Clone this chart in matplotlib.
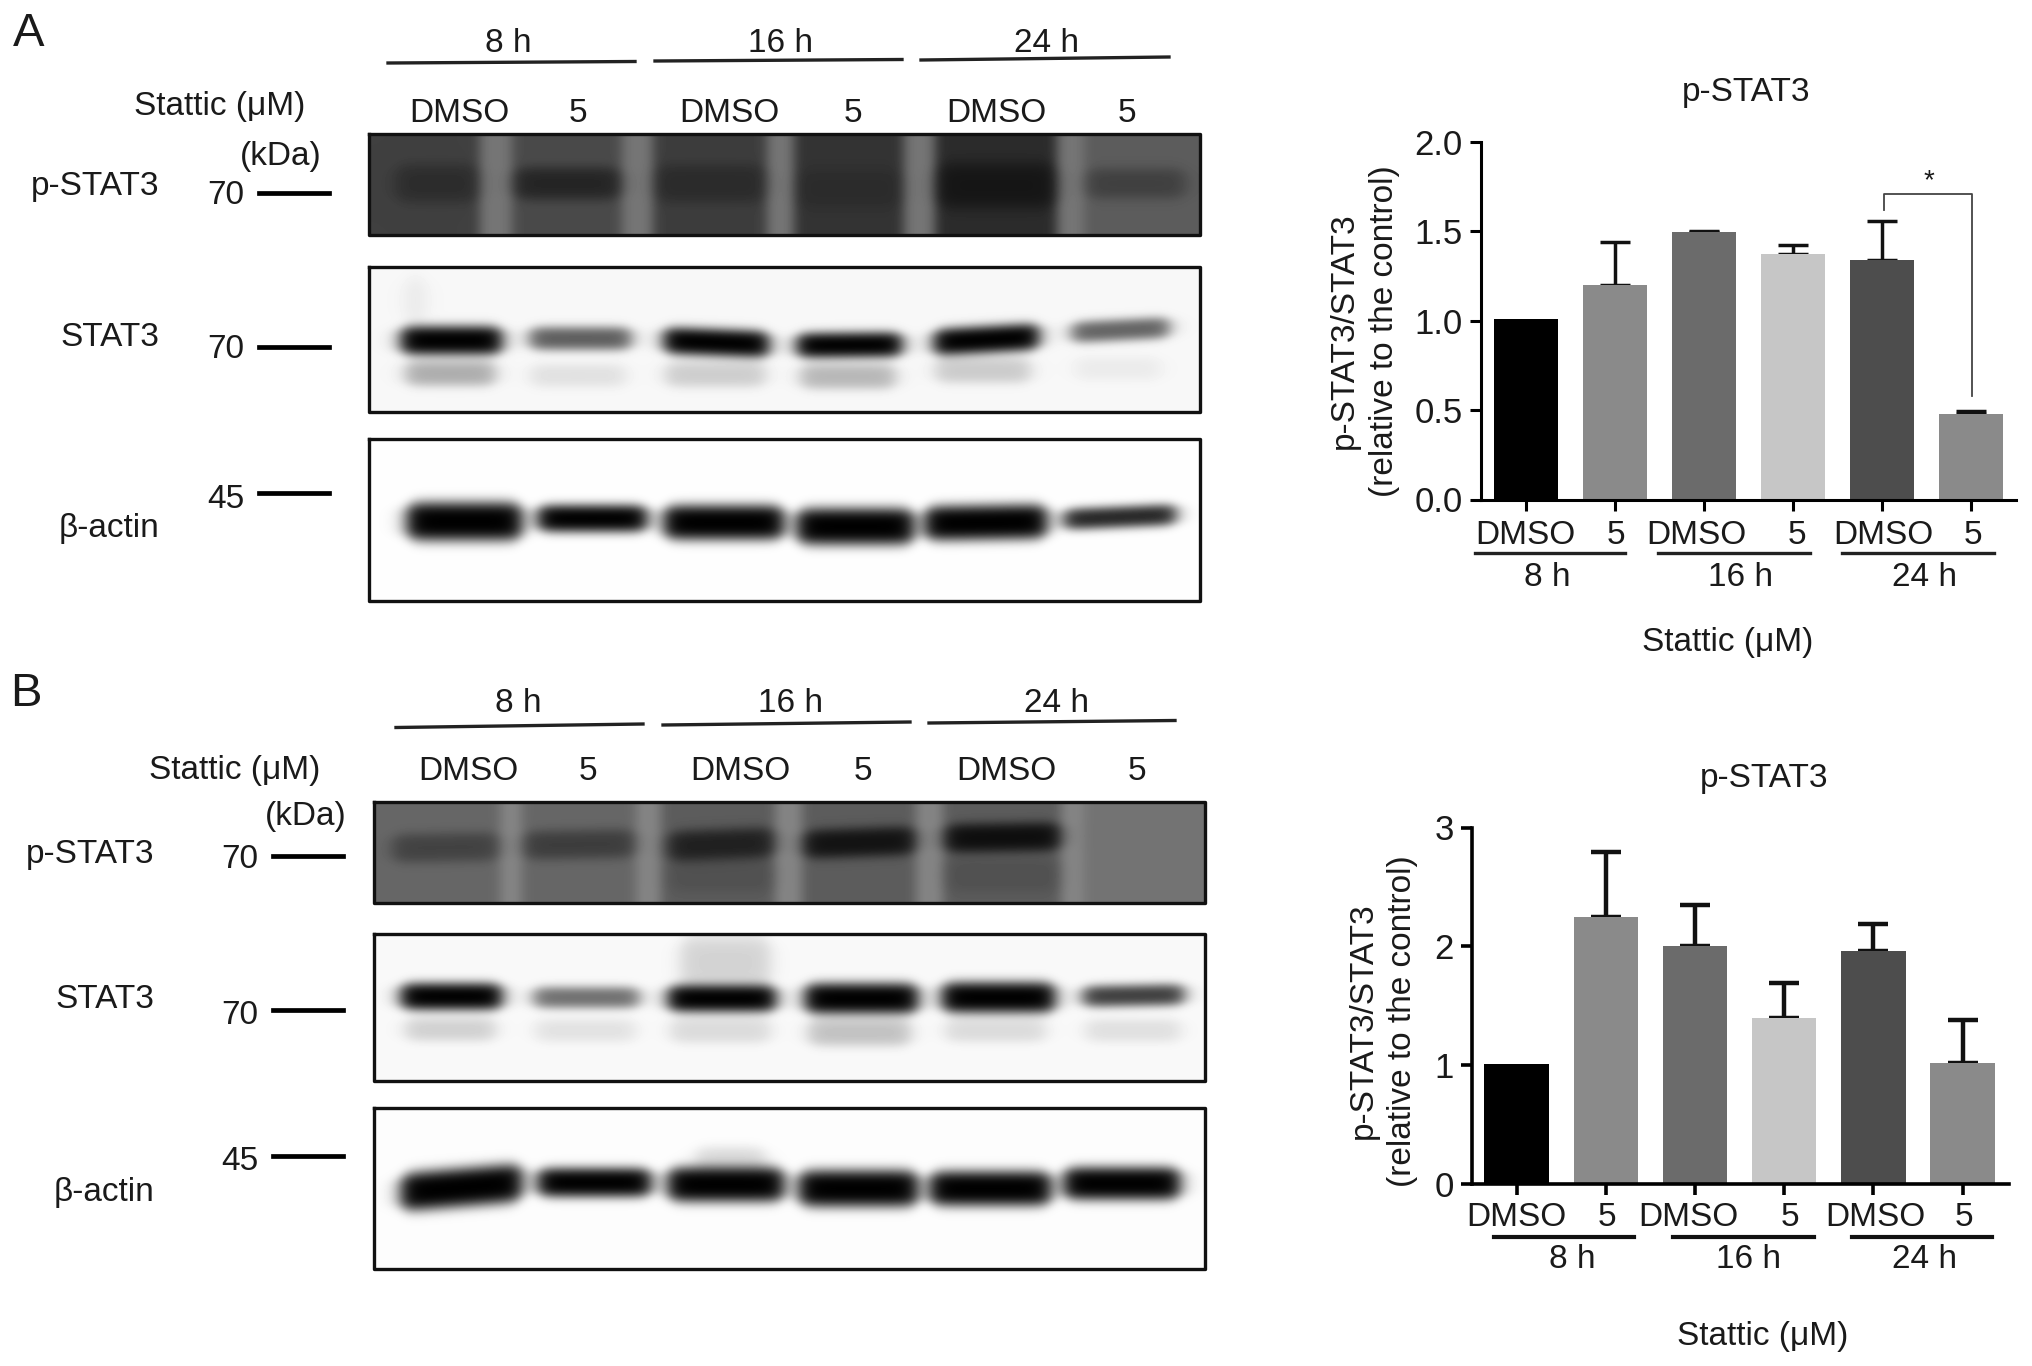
import numpy as np
import matplotlib
matplotlib.use("Agg")
import matplotlib.pyplot as plt
from matplotlib.transforms import ScaledTranslation

plt.rcParams['font.family'] = ['Liberation Sans', 'DejaVu Sans']

# bar chart values
groups = ["DMSO", "5", "DMSO", "5", "DMSO", "5"]
bar_colors = ["#000000", "#8a8a8a", "#6b6b6b", "#c6c6c6", "#4d4d4d", "#8a8a8a"]
a_vals = [1.01, 1.2, 1.495, 1.375, 1.34, 0.48]
a_tops = [1.01, 1.44, 1.5, 1.425, 1.56, 0.495]
b_vals = [1.01, 2.25, 2.0, 1.4, 1.96, 1.02]
b_tops = [1.01, 2.79, 2.35, 1.69, 2.19, 1.38]

# blot bands: lane left, lane right, y at left, y at right, half thickness, strength
a_pstat = [(395, 478, 183, 183, 16, .30), (514, 620, 183, 183, 13, .50), (655, 765, 183, 183, 16, .30),
           (796, 902, 188, 188, 16, .15), (937, 1055, 185, 185, 20, .50), (1086, 1185, 183, 183, 12, .30)]
a_stat = [(400, 502, 340, 340, 11, 1.0), (529, 631, 338, 338, 8, .62), (663, 769, 340, 344, 10, 1.0),
          (796, 902, 345, 344, 9, 1.0), (933, 1039, 342, 336, 10, 1.0), (1071, 1169, 332, 327, 7, .6),
          (405, 495, 373, 373, 9, .30), (530, 625, 375, 375, 8, .09), (665, 765, 374, 374, 9, .17),
          (800, 895, 376, 376, 9, .26), (935, 1030, 370, 370, 9, .18), (1075, 1160, 368, 368, 8, .05),
          (405, 425, 300, 300, 22, .06)]
a_actin = [(406, 522, 521, 521, 16, 1.0), (537, 647, 518, 518, 10, 1.0), (663, 784, 522, 522, 14, 1.0),
           (796, 914, 526, 526, 15, 1.0), (924, 1047, 523, 521, 14, 1.0), (1063, 1176, 519, 514, 7, .85)]
b_pstat = [(392, 498, 848, 846, 11, .35), (524, 634, 845, 843, 11, .40), (668, 773, 846, 842, 12, .65),
           (804, 914, 844, 840, 11, .80), (945, 1059, 838, 836, 11, .85),
           (668, 773, 875, 875, 14, .12), (945, 1059, 875, 875, 14, .12)]
b_stat = [(400, 502, 996, 996, 10, 1.0), (533, 639, 997, 997, 7, .55), (667, 776, 998, 998, 10, 1.0),
          (804, 918, 998, 998, 12, 1.0), (941, 1055, 997, 997, 12, 1.0), (1082, 1184, 996, 994, 7, .75),
          (405, 495, 1029, 1029, 8, .16), (535, 635, 1030, 1030, 8, .09), (670, 770, 1030, 1030, 9, .12),
          (808, 910, 1032, 1032, 10, .22), (945, 1045, 1030, 1030, 8, .12), (1085, 1180, 1030, 1030, 8, .10),
          (680, 770, 962, 962, 24, .15)]
b_actin = [(400, 522, 1192, 1182, 16, 1.0), (537, 651, 1182, 1182, 11, 1.0), (667, 784, 1184, 1184, 14, 1.0),
           (798, 918, 1188, 1188, 15, 1.0), (929, 1051, 1188, 1188, 14, 1.0), (1063, 1180, 1183, 1183, 13, 1.0),
           (695, 765, 1160, 1160, 10, .14)]

# light gaps between lanes of the dark blots: left, right
a_gaps = [(480, 512), (622, 653), (767, 794), (904, 935), (1057, 1084)]
b_gaps = [(500, 522), (636, 661), (775, 802), (916, 943), (1061, 1084)]
a_lane_grey = [.25, .29, .24, .20, .17, .36]
b_lane_grey = [.40, .40, .36, .36, .36, .45]

W, H = 2032, 1366
fig = plt.figure(figsize=(W / 100, H / 100), dpi=100)
ov = fig.add_axes([0, 0, 1, 1])
ov.axis('off')


def t(x, y, s, size=24, ha='center', **kw):
    if 'rotation' not in kw:
        y = y + 3
    ov.text(x, y, s, fontsize=size, ha=ha, va='center', color='#1a1a1a', **kw)


def soft(x, x0, x1, s):
    return 0.5 * (np.tanh((x - x0) / s) - np.tanh((x - x1) / s))


def blur(img, sigma):
    r = int(3 * sigma)
    k = np.exp(-0.5 * (np.arange(-r, r + 1) / sigma) ** 2)
    k = k / k.sum()
    for axis in (0, 1):
        pad = [(0, 0), (0, 0)]
        pad[axis] = (r, r)
        img = np.apply_along_axis(lambda v: np.convolve(v, k, mode='valid'), axis, np.pad(img, pad, mode='edge'))
    return img


def blot(x0, x1, y0, y1, bands, bg, gaps=None, lanes=None, gap_grey=.46, sigma=3.5):
    xx, yy = np.meshgrid(np.arange(x0, x1), np.arange(y0, y1))
    img = np.full(xx.shape, float(bg))
    if lanes is not None:
        edges = [x0] + [g[1] for g in gaps]
        for left, grey in zip(edges, lanes):
            img[xx >= left] = grey
        for g in gaps:
            img[(xx >= g[0]) & (xx < g[1])] = gap_grey
        img = blur(img, 4.5)
    for b in bands:
        left, right, yl, yr, th, strength = b
        yc = yl + (yr - yl) * (xx - left) / (right - left)
        px = soft(xx, left, right, 9)
        thick = th * (0.55 + 0.45 * px) + 4
        py = np.exp(-((yy - yc) / thick) ** 4)
        img = img * (1 - strength * np.clip(px * py, 0, 1))
    img = blur(img, sigma)
    ov.imshow(img, cmap='gray', vmin=0, vmax=1, extent=(x0, x1, y1, y0), aspect='auto',
              interpolation='bilinear', zorder=1)
    ov.plot([x0, x1, x1, x0, x0], [y0, y0, y1, y1, y0], color='#111111', lw=2.4, zorder=2)


# panel A blots
blot(369, 1200, 134, 235, a_pstat, .25, a_gaps, a_lane_grey)
blot(369, 1200, 267, 412, a_stat, .97)
blot(369, 1200, 439, 601, a_actin, .995)
# panel B blots
blot(374, 1205, 802, 903, b_pstat, .4, b_gaps, b_lane_grey, gap_grey=.52)
blot(374, 1205, 934, 1081, b_stat, .975)
blot(374, 1205, 1108, 1269, b_actin, .99)

# panel A labels
t(29, 31, "A", size=34)
for x, s in zip([508, 780, 1047], ["8 h", "16 h", "24 h"]):
    t(x, 41, s)
for xs, ys in [((388, 635), (63, 61.5)), ((655, 902), (61, 59.5)), ((921, 1169), (60, 57))]:
    ov.plot(xs, ys, color='#222222', lw=2.4)
t(220, 104, "Stattic (μM)")
for x, s in zip([459, 578, 729, 853, 996, 1127], groups):
    t(x, 110, s)
t(281, 153, "(kDa)")
t(159, 183, "p-STAT3", ha='right')
t(159, 335, "STAT3", ha='right')
t(159, 525, "β-actin", ha='right')
for y, ly, s in [(193, 192.5, "70"), (346, 347, "70"), (497, 493, "45")]:
    t(226, y, s)
    ov.plot([259, 329], [ly, ly], color='black', lw=3.4)

# panel B labels
t(26, 691, "B", size=34)
for x, s in zip([518, 790, 1057], ["8 h", "16 h", "24 h"]):
    t(x, 701, s)
for xs, ys in [((396, 643), (727.5, 724)), ((663, 910), (725, 722)), ((929, 1175), (723, 720.5))]:
    ov.plot(xs, ys, color='#222222', lw=2.4)
t(235, 768, "Stattic (μM)")
for x, s in zip([468, 588, 740, 863, 1006, 1137], groups):
    t(x, 768, s)
t(306, 813, "(kDa)")
t(154, 851, "p-STAT3", ha='right')
t(154, 997, "STAT3", ha='right')
t(154, 1189, "β-actin", ha='right')
for y, ly, s in [(857, 856, "70"), (1012, 1010, "70"), (1159, 1156, "45")]:
    t(240, y, s)
    ov.plot([273, 343], [ly, ly], color='black', lw=3.4)

# chart labels
for x, y, s in [(1746, 90, "p-STAT3"), (1764, 775, "p-STAT3"), (1728, 639, "Stattic (μM)"), (1763, 1334, "Stattic (μM)")]:
    t(x, y, s)
t(1344, 331, "p-STAT3/STAT3", rotation=90)
t(1384, 331, "(relative to the control)", rotation=90)
t(1363, 1021, "p-STAT3/STAT3", rotation=90)
t(1403, 1021, "(relative to the control)", rotation=90)
for x, s in zip([1525, 1616, 1696, 1797, 1883, 1973], groups):
    t(x, 532, s)
for x, s in zip([1516, 1607, 1688, 1790, 1875, 1964], groups):
    t(x, 1214, s)
for x, s in zip([1547, 1740, 1925], ["8 h", "16 h", "24 h"]):
    t(x, 574, s)
for x, s in zip([1572, 1749, 1925], ["8 h", "16 h", "24 h"]):
    t(x, 1257, s)
for x0, x1 in [(1475, 1625), (1658, 1810), (1842, 1994)]:
    ov.plot([x0, x1], [553, 553], color='#222222', lw=2.4)
for x0, x1 in [(1494, 1634), (1673, 1814), (1852, 1992)]:
    ov.plot([x0, x1], [1237, 1237], color='#111111', lw=3)
ov.plot([1884, 1884, 1972, 1972], [210, 194, 194, 396], color='#444444', lw=1.3)
t(1929, 178, "*", size=20)

ov.set_xlim(0, W)
ov.set_ylim(H, 0)


def bars(left, right, top, bottom, first, step, width, vals, tops, ymax, ticks, fmt, lw, err_lw):
    ax = fig.add_axes([left / W, 1 - bottom / H, (right - left) / W, (bottom - top) / H])
    ax.patch.set_alpha(0)
    xs = np.arange(len(vals))
    ax.bar(xs, vals, width=width / step, color=bar_colors, zorder=3)
    err = np.array(tops) - np.array(vals)
    ax.errorbar(xs[1:], vals[1:], yerr=[np.zeros(5), err[1:]], fmt='none', ecolor='#111111',
                elinewidth=err_lw, capsize=10.5, capthick=err_lw, zorder=2)
    ax.set_xlim((left - first) / step, (right - first) / step)
    ax.set_ylim(0, ymax)
    ax.set_yticks(ticks)
    ax.set_yticklabels([fmt % v for v in ticks], fontsize=25, color='#1a1a1a')
    for lab in ax.get_yticklabels():
        lab.set_transform(lab.get_transform() + ScaledTranslation(0, -2 / 100, fig.dpi_scale_trans))
    ax.set_xticks(xs)
    ax.set_xticklabels([])
    ax.tick_params(axis='both', width=lw, length=8, pad=5)
    for s in ['top', 'right']:
        ax.spines[s].set_visible(False)
    for s in ['left', 'bottom']:
        ax.spines[s].set_linewidth(lw)
        ax.spines[s].set_zorder(4)
    return ax


bars(1481, 2016, 142, 499.5, 1526, 89, 64, a_vals, a_tops, 2.0, [0, .5, 1, 1.5, 2], "%.1f", 2.2, 2.5)
bars(1472, 2009, 827.5, 1184, 1516.6, 89.2, 64.5, b_vals, b_tops, 3, [0, 1, 2, 3], "%d", 2.6, 3.2)

fig.savefig("out.png", dpi=100)
